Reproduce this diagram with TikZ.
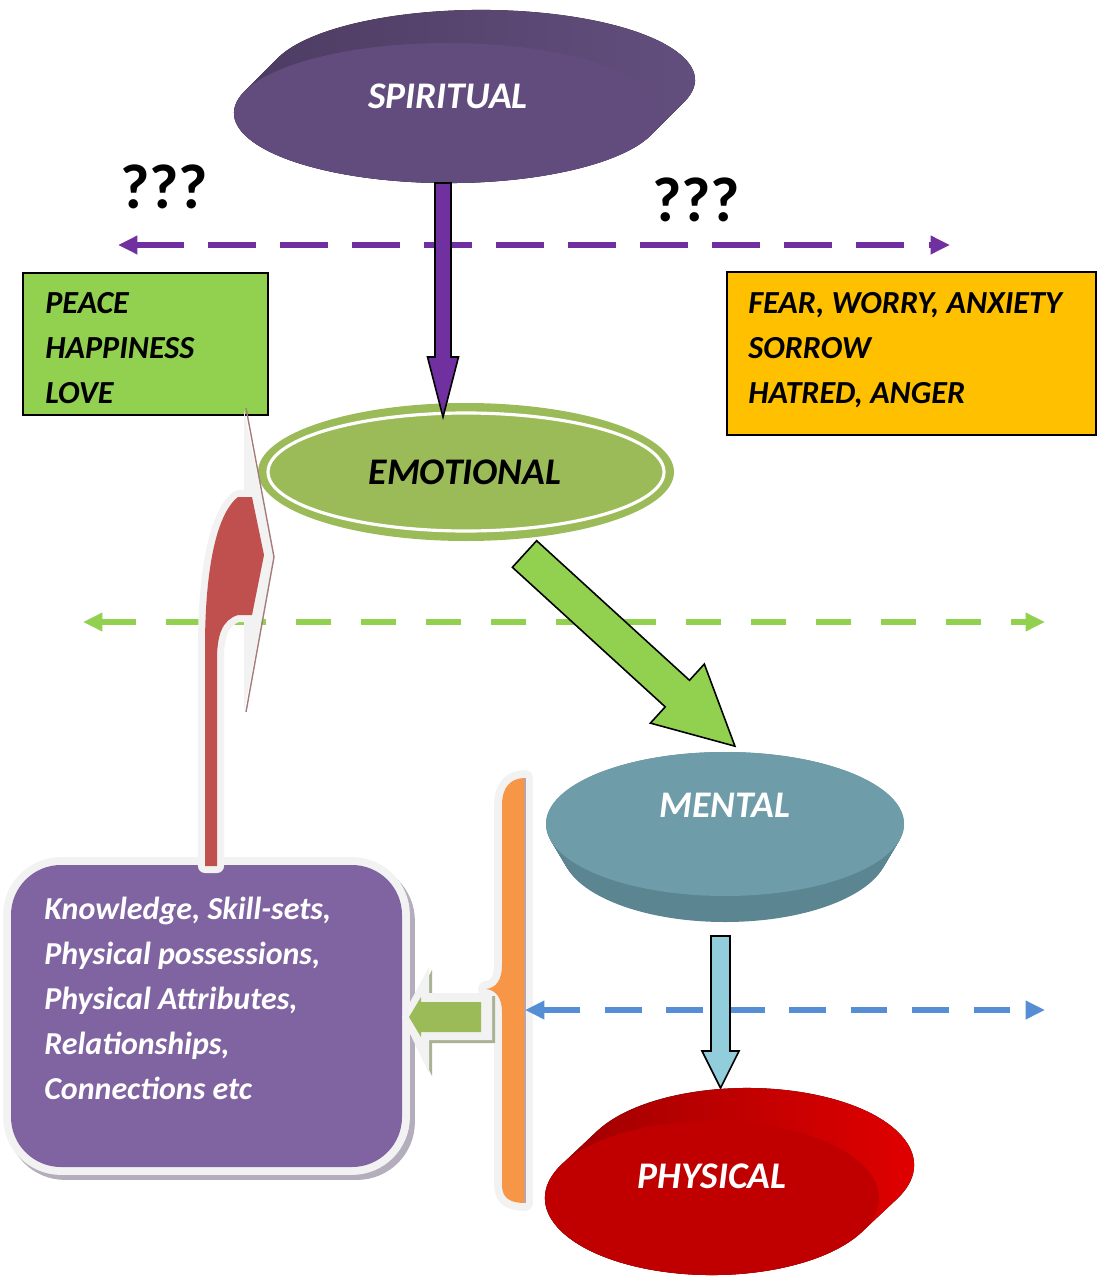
\documentclass[tikz,border=0pt]{standalone}
\usepackage{fontspec}
\setmainfont{Carlito}
\usetikzlibrary{arrows.meta}

\definecolor{spfront}{HTML}{624C7D}
\definecolor{spsideA}{HTML}{4B3A60}
\definecolor{spsideB}{HTML}{64507F}
\definecolor{emgreen}{HTML}{9BBB59}
\definecolor{ltgreen}{HTML}{92D050}
\definecolor{gold}{HTML}{FFC000}
\definecolor{mntop}{HTML}{6F9CA9}
\definecolor{mnside}{HTML}{5A8591}
\definecolor{phfront}{HTML}{C00000}
\definecolor{phsideA}{HTML}{980000}
\definecolor{phsideB}{HTML}{E40000}
\definecolor{arrpurple}{HTML}{7030A0}
\definecolor{ltblue}{HTML}{92CDDC}
\definecolor{dashblue}{HTML}{558ED5}
\definecolor{boxpurple}{HTML}{8064A2}
\definecolor{boxshadow}{HTML}{B4ADBC}
\definecolor{braceorange}{HTML}{F79646}
\definecolor{curvered}{HTML}{C0504D}
\definecolor{glow}{HTML}{F2F2F2}
\definecolor{brownline}{HTML}{A47C7C}

\tikzset{
  disklabel/.style={text=white,inner sep=0pt,font=\bfseries\itshape\fontsize{21.4}{25}\selectfont},
  boxtext/.style={anchor=base west,inner sep=0pt,font=\bfseries\itshape\fontsize{18.3}{21}\selectfont},
  assettext/.style={anchor=base west,inner sep=0pt,text=white,font=\bfseries\itshape\fontsize{18.2}{21}\selectfont},
  qmarks/.style={inner sep=0pt,font=\bfseries\fontsize{36}{40}\selectfont},
  dashline/.style={line width=3.3pt,{Triangle[length=11pt,width=10pt]}-{Triangle[length=11pt,width=10pt]}},
  blockarrow/.style={draw=black,line width=0.9pt,line join=miter},
}

\begin{document}
\begin{tikzpicture}[x=0.02cm,y=-0.02cm]
\useasboundingbox (0,0) rectangle (1100,1277);

% end points of the connectors
\coordinate (pl) at (118,245);
\coordinate (pr) at (950,245);
\coordinate (gl) at (83,622);
\coordinate (gr) at (1045,622);
\coordinate (bl) at (525,1010);
\coordinate (br) at (1045,1010);
\coordinate (sptail) at (443,183);
\coordinate (sptip) at (443,417);
\coordinate (mntail) at (720.5,936);
\coordinate (mntip) at (720.5,1088);

% dashed separators
\draw[dashline,arrpurple,dash pattern=on 27pt off 14pt] (pl) -- (pr);
\draw[dashline,ltgreen,dash pattern=on 20pt off 17pt] (gl) -- (gr);

% spiritual disc
\fill[left color=spsideA,right color=spsideB] (277.6,58.2)
  arc[start angle=198.1,end angle=378.1,x radius=214,y radius=70] -- (651.4,134.8)
  arc[start angle=18.1,end angle=198.1,x radius=214,y radius=70] -- cycle;
\fill[spfront] (448,113) ellipse [x radius=214,y radius=70];
\node[disklabel] (spiritual) at (448,96) {SPIRITUAL};

\node[qmarks] (qleft) at (164,187) {???};
\node[qmarks] (qright) at (696,200) {???};

% text boxes
\draw[fill=ltgreen,line width=0.9pt] (23,273) rectangle (268,415);
\node[boxtext] (peace) at (45,313) {PEACE};
\node[boxtext] (happy) at (45,358) {HAPPINESS};
\node[boxtext] (love) at (45,403) {LOVE};

\draw[fill=gold,line width=0.9pt] (727,272) rectangle (1096,435);
\node[boxtext] (fear) at (748,313) {FEAR, WORRY, ANXIETY};
\node[boxtext] (sorrow) at (748,358) {SORROW};
\node[boxtext] (hatred) at (748,403) {HATRED, ANGER};

% emotional ring
\fill[emgreen] (466,472) ellipse [x radius=208,y radius=69];
\draw[white,line width=1.8pt] (466,472) ellipse [x radius=198,y radius=59];
\node[disklabel,text=black] (emotional) at (465,472) {EMOTIONAL};

% spiritual -> emotional
\draw[blockarrow,fill=arrpurple] (sptail) ++(-8,0) -- ++(16,0) -- ++(0,174) -- ++(7.5,0)
  -- (sptip) -- ++(-15.5,-60) -- ++(7.5,0) -- cycle;

% emotional -> mental
\begin{scope}[shift={(524.5,554)},rotate=-42.4]
\draw[blockarrow,fill=ltgreen] (0,-18) -- (207,-18) -- (207,-40) -- (285,0)
  -- (207,40) -- (207,18) -- (0,18) -- cycle;
\end{scope}

% assets box
\path[draw=boxshadow,line width=9pt,fill=boxshadow,rounded corners=1cm] (15,871) rectangle (407,1172);
\path[preaction={draw=glow,line width=9pt},fill=boxpurple,rounded corners=1cm] (11,865) rectangle (402,1167);
\node[assettext] (know) at (44,919) {Knowledge, Skill-sets,};
\node[assettext] (poss) at (44,964) {Physical possessions,};
\node[assettext] (attr) at (44,1009) {Physical Attributes,};
\node[assettext] (rel) at (44,1054) {Relationships,};
\node[assettext] (conn) at (44,1099) {Connections etc};

% curved arrow back up to the green box
\fill[glow] (244,410) -- (274,557) -- (244,712) -- cycle;
\draw[brownline,line width=0.8pt] (246,408) -- (274,557) -- (246,712);
\path[preaction={draw=glow,line width=8pt,line join=round},fill=curvered]
  (205,866) -- (205,647) .. controls (205,575) and (215,515) .. (238,497) -- (252,497)
  -- (264,555) -- (252,615) -- (238,615) .. controls (222,620) and (217,635) .. (217,660)
  -- (217,866) -- cycle;

% brace over mental and physical
\path[preaction={draw=glow,line width=9pt,line join=round},fill=braceorange]
  (525,778) .. controls (510,778) and (502,788) .. (502,805) -- (502,965)
  .. controls (502,980) and (496,988) .. (486,989) .. controls (496,990) and (502,998) .. (502,1012)
  -- (502,1185) .. controls (502,1198) and (510,1203) .. (525,1203) -- cycle;
\draw[brownline!70,line width=0.8pt] (525,778) -- (525,1203);

% brace -> assets box
\fill[boxshadow!60!emgreen] (405,1020) -- (432,970) -- (432,996) -- (495,996) -- (495,1043)
  -- (432,1043) -- (432,1076) -- cycle;
\fill[glow] (402,1017) -- (429,967) -- (429,993) -- (492,993) -- (492,1040)
  -- (429,1040) -- (429,1073) -- cycle;
\fill[emgreen] (409,1017) -- (421,997) -- (421,1002) -- (481,1002) -- (481,1032)
  -- (421,1032) -- (421,1037) -- cycle;

\draw[dashline,dashblue,dash pattern=on 21pt off 14pt] (bl) -- (br);

% mental disc
\foreach \t in {0,0.04,...,1}
  \fill[mnside] (725,850-26*\t) ellipse [x radius=163+16*\t,y radius=72];
\fill[mntop] (725,824) ellipse [x radius=179,y radius=72];
\node[disklabel] (mental) at (725,805) {MENTAL};

% mental -> physical
\draw[blockarrow,fill=ltblue] (mntail) ++(-9.5,0) -- ++(19,0) -- ++(0,115) -- ++(9,0)
  -- (mntip) -- ++(-18.5,-37) -- ++(9,0) -- cycle;

% physical disc
\fill[left color=phsideA,right color=phsideB] (597.1,1131.1)
  arc[start angle=206.1,end angle=386.1,x radius=167,y radius=77] -- (861.9,1231.9)
  arc[start angle=26.1,end angle=206.1,x radius=167,y radius=77] -- cycle;
\fill[phfront] (712,1198) ellipse [x radius=167,y radius=77];
\node[disklabel] (physical) at (712,1176) {PHYSICAL};
\end{tikzpicture}
\end{document}
